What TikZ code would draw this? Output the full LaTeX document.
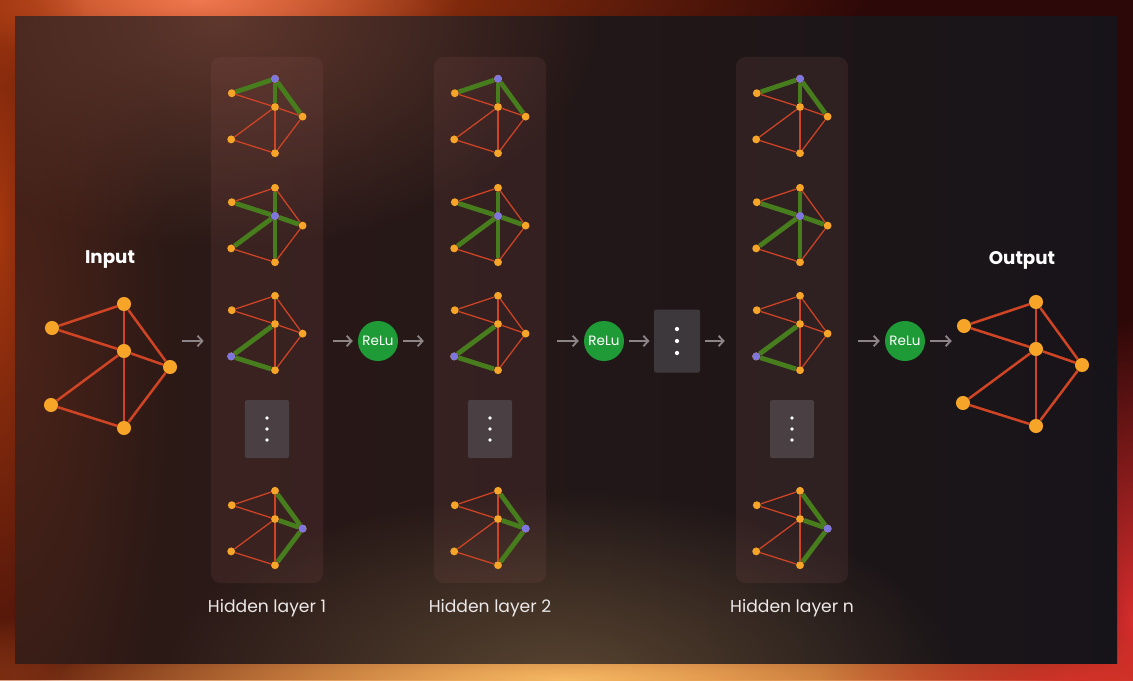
\documentclass[tikz,border=0pt]{standalone}
\usepackage{fontspec}
\setmainfont{Poppins}
\usetikzlibrary{positioning,arrows.meta,fadings,calc}

\definecolor{nodeorange}{RGB}{247,165,40}
\definecolor{edgered}{RGB}{206,68,36}
\definecolor{hotgreen}{RGB}{72,125,30}
\definecolor{hubpurple}{RGB}{125,118,222}
\definecolor{relugreen}{RGB}{30,155,55}
\definecolor{arrowgray}{RGB}{140,132,134}
\definecolor{textwhite}{RGB}{236,232,232}
\definecolor{layerfill}{RGB}{150,90,90}
\definecolor{morefill}{RGB}{74,64,68}
\definecolor{dotsfill}{RGB}{61,56,60}
\definecolor{framebase}{RGB}{45,8,8}
\definecolor{panelL}{RGB}{46,26,22}
\definecolor{panelR}{RGB}{23,20,25}
\definecolor{glowtop}{RGB}{185,65,15}
\definecolor{glowhot}{RGB}{240,120,80}
\definecolor{glowleft}{RGB}{165,55,15}
\definecolor{glowbottom}{RGB}{195,85,30}
\definecolor{glowgold}{RGB}{245,185,100}
\definecolor{glowred}{RGB}{215,45,45}
\definecolor{glowredlow}{RGB}{210,50,40}
\definecolor{panelside}{RGB}{75,35,25}
\definecolor{panelcorner}{RGB}{95,55,45}
\definecolor{panelfloor}{RGB}{88,68,48}

\tikzfading[name=glow, inner color=transparent!0, outer color=transparent!100]

% one graph: name, centre, scale, dot style, line style
\newcommand{\netgraph}[5]{%
  \begin{scope}[shift={#2}, scale=#3]
    \node[#4] (#1-c) at (0,0) {};
    \node[#4] (#1-t) at (0,-47) {};
    \node[#4] (#1-l) at (-72,-23) {};
    \node[#4] (#1-r) at (46,16) {};
    \node[#4] (#1-bl) at (-73,54) {};
    \node[#4] (#1-b) at (0,77) {};
  \end{scope}
  \foreach \u/\v in {l/t, l/c, t/c, t/r, c/r, c/bl, c/b, bl/b, r/b}
    \draw[#5] (#1-\u) -- (#1-\v);
}
% green edges round one node
\newcommand{\hilite}[3]{%
  \foreach \v in {#3}
    \draw[hotline] (#1-#2) -- (#1-\v);
  \node[hub] (#1-hub) at (#1-#2) {};
}

\begin{document}
\begin{tikzpicture}[x=0.025cm, y=-0.025cm,
    bigdot/.style={circle, fill=nodeorange, inner sep=0pt, minimum size=10pt},
    bigline/.style={draw=edgered, line width=1.8pt},
    sdot/.style={circle, fill=nodeorange, inner sep=0pt, minimum size=5.6pt},
    sline/.style={draw=edgered, line width=0.9pt},
    hotline/.style={draw=hotgreen, line width=3.4pt},
    hub/.style={circle, fill=hubpurple, inner sep=0pt, minimum size=5.6pt},
    layerbox/.style={rounded corners=7pt, fill=layerfill, fill opacity=0.15,
      minimum width=2.8cm, minimum height=13.15cm, inner sep=0pt},
    morebox/.style={rounded corners=1.5pt, fill=morefill,
      minimum width=1.1cm, minimum height=1.45cm, inner sep=0pt},
    relu/.style={circle, fill=relugreen, text=white, inner sep=0pt,
      minimum size=1cm, font=\fontsize{9.6}{11}\selectfont},
    title/.style={text=white, font=\fontsize{13}{15}\selectfont\bfseries},
    caption/.style={text=textwhite, font=\fontsize{12.2}{14}\selectfont},
    glowspot/.style={fill=#1, path fading=glow},
    flow/.style={draw=arrowgray, line width=1.3pt,
      -{Straight Barb[length=3.5pt,width=7.5pt]},
      shorten <=3.5pt, shorten >=3.5pt}]

  \useasboundingbox (0,0) rectangle (1133,680);

  % frame and panel
  \begin{scope}
    \clip (0,0) rectangle (1133,680);
    \fill[framebase] (0,0) rectangle (1133,680);
    \fill[glowspot=glowtop] (170,0) ellipse [x radius=700, y radius=90];
    \fill[glowspot=glowhot] (200,0) ellipse [x radius=260, y radius=70];
    \fill[glowspot=glowleft] (0,230) ellipse [x radius=90, y radius=600];
    \fill[glowspot=glowbottom] (620,680) ellipse [x radius=1000, y radius=80];
    \fill[glowspot=glowgold] (565,680) ellipse [x radius=520, y radius=70];
    \fill[glowspot=glowred] (1133,620) ellipse [x radius=110, y radius=300];
    \fill[glowspot=glowredlow] (1080,680) ellipse [x radius=260, y radius=50];
  \end{scope}
  \shade[left color=panelL, right color=panelR] (15,16) rectangle (1117,663);
  \begin{scope}
    \clip (15,16) rectangle (1117,663);
    \fill[glowspot=panelside] (15,330) ellipse [x radius=160, y radius=560];
    \fill[glowspot=panelcorner] (220,20) ellipse [x radius=380, y radius=230];
    \fill[glowspot=panelfloor] (560,680) ellipse [x radius=400, y radius=190];
  \end{scope}

  % input and output
  \node[title] (intitle) at (110,260) {Input};
  \node[title] (outtitle) at (1022,260) {Output};
  \netgraph{in}{(124,351)}{1}{bigdot}{bigline}
  \netgraph{out}{(1036,349)}{1}{bigdot}{bigline}

  % hidden layers
  \foreach \k/\gx in {1/275, 2/498, n/800} {
    \node[layerbox] (layer\k) at (\gx-8,320) {};
    \node[caption] (cap\k) at (\gx-8,608) {Hidden layer \k};
    \netgraph{h\k a}{(\gx,107)}{0.6}{sdot}{sline}
    \netgraph{h\k b}{(\gx,216)}{0.6}{sdot}{sline}
    \netgraph{h\k c}{(\gx,324)}{0.6}{sdot}{sline}
    \netgraph{h\k d}{(\gx,519)}{0.6}{sdot}{sline}
    \hilite{h\k a}{t}{l,c,r}
    \hilite{h\k b}{c}{t,l,r,bl,b}
    \hilite{h\k c}{bl}{c,b}
    \hilite{h\k d}{r}{t,c,b}
    \node[morebox] (more\k) at (\gx-8,429) {};
    \foreach \dy in {-11,0,11}
      \fill[white] ($(more\k)+(0,\dy)$) circle[radius=1.3pt];
  }

  % relu and skipped layers
  \node[relu] (relu1) at (378,341) {ReLu};
  \node[relu] (relu2) at (604,341) {ReLu};
  \node[relu] (relu3) at (905,341) {ReLu};
  \node[rounded corners=1.5pt, fill=dotsfill, minimum width=1.15cm,
    minimum height=1.575cm, inner sep=0pt] (skip) at (677,341) {};
  \foreach \dy in {-12,0,12}
    \fill[white] ($(skip)+(0,\dy)$) circle[radius=1.5pt];

  \draw[flow, shorten >=5pt] (in-r.east |- relu1) -- (layer1.west |- relu1);
  \draw[flow, shorten <=7pt] (layer1.east |- relu1) -- (relu1);
  \draw[flow, shorten >=7pt] (relu1) -- (layer2.west |- relu1);
  \draw[flow, shorten <=7.8pt] (layer2.east |- relu2) -- (relu2);
  \draw[flow, shorten >=3pt] (relu2) -- (skip);
  \draw[flow, shorten >=7.8pt] (skip) -- (layern.west |- skip);
  \draw[flow, shorten <=7pt] (layern.east |- relu3) -- (relu3);
  \draw[flow] (relu3) -- (out-l.west |- relu3);

\end{tikzpicture}
\end{document}
